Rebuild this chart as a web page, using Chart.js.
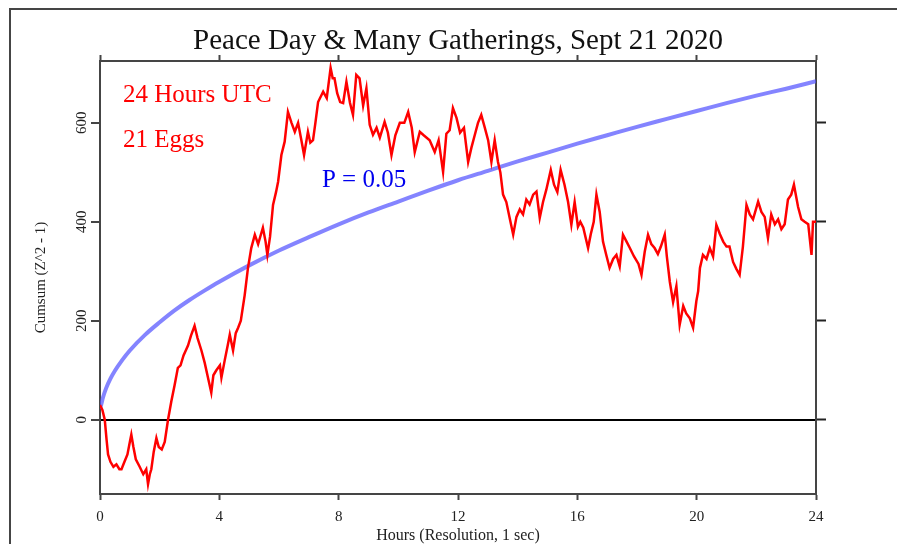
<!DOCTYPE html>
<html>
<head>
<meta charset="utf-8">
<script src="https://cdn.jsdelivr.net/npm/chart.js@4/dist/chart.umd.min.js"></script>
<style>
  html, body { margin: 0; padding: 0; background: #fff; }
  #wrap { width: 897px; height: 544px; position: relative; }
</style>
</head>
<body>
<div id="wrap"><canvas id="gcpChart"></canvas></div>
<script>
// cumulative deviation (red)
const cumHours = [0.00, 0.08, 0.16, 0.22, 0.27, 0.35, 0.45, 0.55, 0.65, 0.72, 0.82, 0.92, 1.00, 1.05, 1.12, 1.20, 1.33, 1.45, 1.55, 1.61, 1.67, 1.72, 1.80, 1.89, 1.97, 2.07, 2.17, 2.28, 2.39, 2.50, 2.61, 2.70, 2.80, 2.95, 3.05, 3.17, 3.27, 3.40, 3.51, 3.62, 3.73, 3.80, 3.90, 4.02, 4.07, 4.18, 4.28, 4.35, 4.46, 4.55, 4.63, 4.72, 4.85, 4.96, 5.07, 5.19, 5.30, 5.46, 5.55, 5.61, 5.70, 5.80, 5.90, 5.97, 6.08, 6.19, 6.30, 6.42, 6.53, 6.64, 6.75, 6.84, 6.97, 7.05, 7.14, 7.22, 7.31, 7.48, 7.60, 7.73, 7.80, 7.86, 7.95, 8.05, 8.15, 8.26, 8.38, 8.48, 8.59, 8.70, 8.82, 8.93, 9.04, 9.15, 9.27, 9.38, 9.54, 9.65, 9.77, 9.90, 10.05, 10.20, 10.33, 10.45, 10.55, 10.72, 10.85, 11.05, 11.22, 11.35, 11.50, 11.61, 11.72, 11.83, 11.95, 12.07, 12.20, 12.34, 12.45, 12.56, 12.67, 12.78, 12.90, 13.01, 13.12, 13.23, 13.34, 13.42, 13.51, 13.62, 13.73, 13.85, 13.96, 14.07, 14.18, 14.29, 14.40, 14.52, 14.63, 14.74, 14.85, 14.96, 15.11, 15.22, 15.33, 15.44, 15.57, 15.69, 15.80, 15.91, 16.02, 16.10, 16.20, 16.36, 16.45, 16.55, 16.64, 16.75, 16.86, 16.97, 17.08, 17.20, 17.31, 17.42, 17.53, 17.65, 17.76, 17.90, 18.05, 18.15, 18.26, 18.37, 18.48, 18.59, 18.70, 18.80, 18.93, 19.00, 19.10, 19.21, 19.32, 19.43, 19.55, 19.65, 19.77, 19.88, 19.99, 20.05, 20.11, 20.21, 20.33, 20.44, 20.55, 20.66, 20.78, 20.89, 21.00, 21.10, 21.22, 21.33, 21.44, 21.55, 21.67, 21.78, 21.89, 22.06, 22.17, 22.28, 22.39, 22.50, 22.62, 22.73, 22.84, 22.95, 23.06, 23.17, 23.26, 23.40, 23.51, 23.62, 23.74, 23.85, 23.90, 24.00];
const cumValues = [30, 20, 0, -40, -70, -85, -95, -90, -100, -100, -85, -70, -45, -30, -55, -80, -95, -110, -100, -130, -110, -100, -65, -37, -55, -60, -45, 0, 37, 70, 105, 110, 130, 150, 170, 190, 165, 140, 115, 85, 55, 90, 100, 110, 85, 120, 150, 172, 140, 175, 186, 200, 252, 307, 347, 374, 355, 388, 360, 333, 370, 434, 460, 481, 535, 562, 622, 600, 582, 600, 565, 535, 582, 560, 565, 600, 642, 663, 650, 711, 690, 690, 660, 642, 640, 683, 640, 616, 697, 690, 635, 670, 596, 576, 590, 570, 602, 580, 535, 575, 600, 600, 622, 590, 541, 582, 575, 565, 541, 565, 501, 578, 585, 630, 610, 580, 590, 521, 550, 575, 600, 616, 590, 565, 521, 565, 521, 500, 455, 440, 408, 374, 410, 425, 415, 445, 435, 455, 461, 408, 440, 465, 505, 475, 460, 505, 475, 440, 394, 440, 390, 400, 388, 347, 375, 400, 455, 420, 360, 333, 307, 325, 333, 310, 374, 360, 347, 330, 315, 293, 340, 374, 355, 347, 335, 350, 374, 330, 279, 238, 270, 192, 230, 215, 205, 186, 240, 260, 307, 333, 325, 347, 330, 394, 375, 360, 350, 350, 319, 305, 293, 350, 434, 415, 405, 441, 420, 410, 367, 415, 395, 405, 385, 395, 445, 455, 475, 430, 405, 400, 395, 333, 400, 400];

// P = 0.05 envelope (blue)
const envHours = [0, 0.05, 0.1, 0.2, 0.35, 0.5, 0.75, 1, 1.5, 2, 2.5, 3, 3.5, 4, 5, 6, 7, 8, 9, 10, 11, 12, 13, 14, 15, 16, 17, 18, 19, 20, 21, 22, 23, 24];
const envValues = [22, 33, 45, 63, 83, 99, 121, 140, 171, 197, 221, 242, 261, 279, 312, 342, 369, 395, 419, 441, 463, 484, 503, 522, 540, 558, 575, 592, 608, 624, 640, 655, 669, 684];

const titleText = 'Peace Day & Many Gatherings, Sept 21 2020';
const xTitle = 'Hours (Resolution, 1 sec)';
const yTitle = 'Cumsum (Z^2 - 1)';
const notes = ['24 Hours UTC', '21 Eggs'];
const pNote = 'P = 0.05';

const serif = '"Liberation Serif", "DejaVu Serif", serif';
const axisColor = '#454545';

const toPoints = (xs, ys) => xs.map((x, i) => ({ x: x, y: ys[i] }));

// outer frame + text notes
const extras = {
    id: 'extras',
    beforeDraw(chart) {
        const ctx = chart.ctx;
        ctx.save();
        ctx.fillStyle = '#fff';
        ctx.fillRect(0, 0, chart.width, chart.height);
        ctx.strokeStyle = axisColor;
        ctx.lineWidth = 2;
        ctx.beginPath();
        ctx.moveTo(10, chart.height);
        ctx.lineTo(10, 9);
        ctx.lineTo(chart.width, 9);
        ctx.stroke();
        ctx.restore();
    },
    afterDatasetsDraw(chart) {
        const ctx = chart.ctx;
        const xs = chart.scales.x, ys = chart.scales.y;
        ctx.save();
        ctx.font = '25px ' + serif;
        ctx.textBaseline = 'middle';
        ctx.textAlign = 'left';
        ctx.fillStyle = '#ff0000';
        ctx.fillText(notes[0], xs.getPixelForValue(0.77), ys.getPixelForValue(655));
        ctx.fillText(notes[1], xs.getPixelForValue(0.77), ys.getPixelForValue(565));
        ctx.fillStyle = '#0000ee';
        ctx.fillText(pNote, xs.getPixelForValue(7.44), ys.getPixelForValue(483));
        ctx.restore();
    }
};

const ctx = document.getElementById('gcpChart').getContext('2d');
new Chart(ctx, {
    type: 'line',
    data: {
        datasets: [{
            label: 'Cumsum',
            data: toPoints(cumHours, cumValues),
            borderColor: '#ff0000',
            borderWidth: 2.5,
            pointRadius: 0,
            tension: 0
        }, {
            label: 'P = 0.05',
            data: toPoints(envHours, envValues),
            borderColor: 'rgba(85, 85, 255, 0.72)',
            borderWidth: 4,
            pointRadius: 0,
            cubicInterpolationMode: 'monotone'
        }]
    },
    options: {
        responsive: true,
        maintainAspectRatio: false,
        animation: false,
        layout: { padding: 0 },
        plugins: {
            legend: { display: false },
            tooltip: { enabled: false },
            title: { display: false }
        },
        scales: {
            x: {
                type: 'linear',
                position: 'bottom',
                min: 0, max: 24,
                afterFit: s => { s.height = 50; },
                ticks: { stepSize: 4, color: '#222', padding: 8, maxRotation: 0, font: { family: serif, size: 15 } },
                grid: { drawOnChartArea: false, tickLength: 6, tickColor: axisColor, tickWidth: 2 },
                border: { color: axisColor, width: 2 },
                title: { display: true, text: xTitle, color: '#222', padding: 0, font: { family: serif, size: 16, lineHeight: 1 } }
            },
            x2: {
                type: 'linear',
                position: 'top',
                min: 0, max: 24,
                afterFit: s => { s.height = 61; },
                ticks: { stepSize: 4, display: false },
                grid: { drawOnChartArea: false, tickLength: 6, tickColor: axisColor, tickWidth: 2 },
                border: { color: axisColor, width: 2 },
                title: { display: true, text: titleText, color: '#111', padding: { top: 27, bottom: 0 }, font: { family: serif, size: 29, lineHeight: 1 } }
            },
            y: {
                type: 'linear',
                position: 'left',
                min: -150, max: 725,
                afterFit: s => { s.width = 100; },
                ticks: {
                    stepSize: 200, includeBounds: false, color: '#222',
                    minRotation: 90, maxRotation: 90, crossAlign: 'center', padding: -2,
                    font: { family: serif, size: 15 }
                },
                grid: {
                    color: c => (c.tick && c.tick.value === 0 ? '#000' : 'rgba(0,0,0,0)'),
                    lineWidth: 2, tickLength: 9, tickColor: axisColor, tickWidth: 2
                },
                border: { color: axisColor, width: 2 },
                title: { display: true, text: yTitle, color: '#222', padding: { top: 34, bottom: 0 }, font: { family: serif, size: 15, lineHeight: 1 } }
            },
            y2: {
                type: 'linear',
                position: 'right',
                min: -150, max: 725,
                afterFit: s => { s.width = 81; },
                ticks: { stepSize: 200, includeBounds: false, display: false },
                grid: { drawOnChartArea: false, tickLength: 10, tickColor: '#222', tickWidth: 2 },
                border: { color: axisColor, width: 2 }
            }
        }
    },
    plugins: [extras]
});
</script>
</body>
</html>
